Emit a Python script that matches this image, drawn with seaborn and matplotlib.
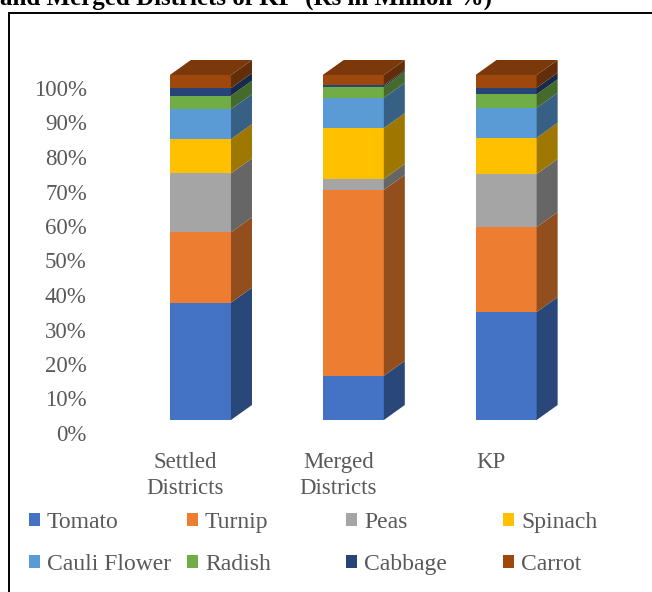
import numpy as np
import pandas as pd
import seaborn as sns
import matplotlib
matplotlib.use("Agg")
import matplotlib.pyplot as plt
from matplotlib.patches import Polygon, Rectangle, Patch

# ---------------- data ----------------
categories = ["Settled\nDistricts", "Merged\nDistricts", "KP"]
series = ["Tomato", "Turnip", "Peas", "Spinach", "Cauli Flower", "Radish", "Cabbage", "Carrot"]
tomato = [34.0, 12.8, 31.3]
turnip = [20.4, 53.9, 24.6]
peas = [17.1, 3.2, 15.4]
spinach = [9.9, 14.7, 10.5]
cauli_flower = [8.7, 8.8, 8.7]
radish = [3.9, 3.2, 3.9]
cabbage = [2.2, 0.4, 1.9]
carrot = [3.8, 3.0, 3.7]
ytick_values = [0, 10, 20, 30, 40, 50, 60, 70, 80, 90, 100]
ytick_labels = [f"{v}%" for v in ytick_values]
title_text = "and Merged Districts of KP  (Rs in Million %)"

colors = ["#4472C4", "#ED7D31", "#A5A5A5", "#FFC000",
          "#5B9BD5", "#70AD47", "#264478", "#9E480E"]

values = [tomato, turnip, peas, spinach, cauli_flower, radish, cabbage, carrot]
cum = np.cumsum(np.array(values), axis=0)  # shape (8, 3)

rows = []
for j, s in enumerate(series):
    for i, c in enumerate(categories):
        rows.append({"category": c, "series": s, "value": values[j][i], "cum": cum[j, i]})
df = pd.DataFrame(rows)

# ---------------- style ----------------
sns.set_theme(style="white")
plt.rcParams["font.family"] = ["Liberation Serif", "DejaVu Serif"]
TXT = "#595959"
FS = 16.5
FS_LEG = 17

W, H = 652, 592
fig = plt.figure(figsize=(W / 100, H / 100), dpi=100)

# ----- label axes (floor plane, slightly shifted) -----
ax2 = fig.add_axes([(124 - 15) / W, (H - 433) / H, 458.5 / W, 345 / H])
ax2.set_xlim(-0.5, 2.5)
ax2.set_ylim(0, 100)
ax2.set_yticks(ytick_values)
ax2.set_yticklabels(ytick_labels)
ax2.set_xticks(range(len(categories)))
ax2.set_xticklabels(categories, linespacing=1.3)
ax2.tick_params(axis="y", length=0, pad=16, labelsize=FS, labelcolor=TXT)
ax2.tick_params(axis="x", length=0, pad=14, labelsize=FS, labelcolor=TXT)
for sp in ax2.spines.values():
    sp.set_visible(False)
ax2.patch.set_alpha(0)
ax2.grid(False)

# ----- bar axes (front faces) -----
ax = fig.add_axes([124 / W, (H - 420) / H, 458.5 / W, 345 / H])
ax.patch.set_alpha(0)
bar_w = 0.4
for j in range(len(series) - 1, -1, -1):
    sub = df[df["series"] == series[j]]
    sns.barplot(data=sub, x="category", y="cum", order=categories, color=colors[j],
                saturation=1, width=bar_w, errorbar=None, linewidth=0, ax=ax)
ax.set_xlim(-0.5, 2.5)
ax.set_ylim(0, 100)
ax.axis("off")

# 3D depth offsets (px -> data units)
px_x = 458.5 / 3.0
px_y = 345 / 100.0
dx = 21 / px_x
dy = 15 / px_y


def shade(c, f):
    r, g, b = matplotlib.colors.to_rgb(c)
    return (r * f, g * f, b * f)


bars = ax.containers[-1]
for i, p in enumerate(bars.patches):
    xl = p.get_x()
    xr = xl + p.get_width()
    lo = 0.0
    for j in range(len(series)):
        hi = cum[j, i]
        poly = Polygon([(xr, lo), (xr + dx, lo + dy), (xr + dx, hi + dy), (xr, hi)],
                       closed=True, facecolor=shade(colors[j], 0.62), edgecolor="none",
                       clip_on=False, zorder=3)
        ax.add_patch(poly)
        lo = hi
    top = Polygon([(xl, lo), (xl + dx, lo + dy), (xr + dx, lo + dy), (xr, lo)],
                  closed=True, facecolor=shade(colors[-1], 0.78), edgecolor="none",
                  clip_on=False, zorder=3)
    ax.add_patch(top)

# ----- legend: four columns -----
col_x = [29, 187, 346, 503]
for k in range(4):
    idx = [k, k + 4]
    handles = [Patch(facecolor=colors[m], edgecolor="none") for m in idx]
    leg = fig.legend(handles, [series[m] for m in idx], loc="center left",
                     bbox_to_anchor=(col_x[k] / W, 1 - 543.5 / H), frameon=False,
                     fontsize=FS_LEG, handlelength=0.46, handleheight=0.46,
                     handletextpad=0.3, labelspacing=0.9, borderpad=0,
                     borderaxespad=0)
    for t in leg.get_texts():
        t.set_color(TXT)

# ----- outer border and clipped title -----
fig.add_artist(Rectangle((9 / W, -0.1), 1.2, 1.1 - 12.5 / H, transform=fig.transFigure,
                         fill=False, edgecolor="black", linewidth=1.4))
fig.text(0 / W, 1 - 5 / H, title_text, ha="left", va="baseline", fontsize=18,
         fontweight="bold", color="black")

fig.savefig("out.png", dpi=100)
